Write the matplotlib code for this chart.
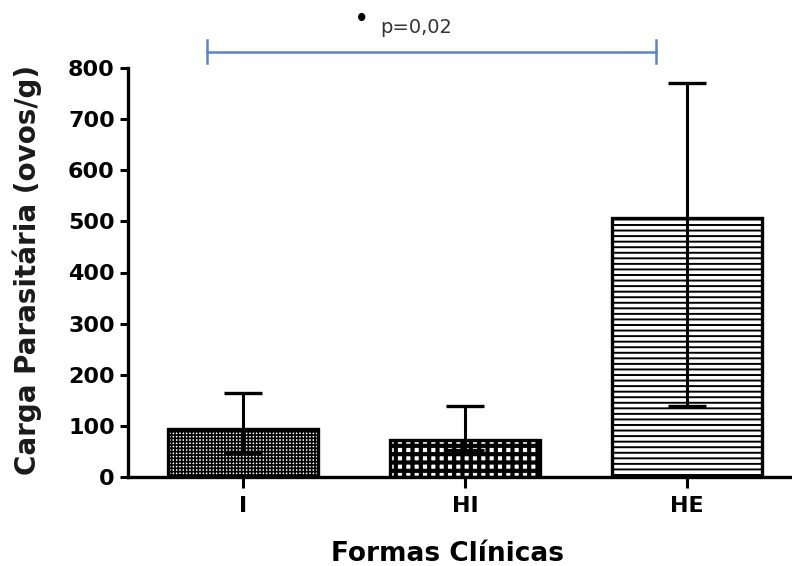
import matplotlib
matplotlib.use("Agg")
import matplotlib.pyplot as plt
import numpy as np

categories = ["I", "HI", "HE"]
means = [94, 72, 507]
upper_err = [70, 67, 264]
lower_err = [45, 19, 368]
hatches = ["+++++", "++", "---"]
yticks = [0, 100, 200, 300, 400, 500, 600, 700, 800]
sig_label = "p=0,02"

plt.rcParams['font.family'] = ['DejaVu Sans']

fig = plt.figure(figsize=(7.92, 5.66), dpi=100)
ax = fig.add_axes([128/792, 1-477/566, (790-128)/792, (477-68)/566])

x = np.arange(len(categories))
hatch_lws = [1.2, 3.0, 1.4]
for i in range(len(categories)):
    plt.rcParams['hatch.linewidth'] = hatch_lws[i]
    ax.bar(x[i], means[i], width=0.675, color='white', edgecolor='black',
           linewidth=2.4, hatch=hatches[i], zorder=2)
ax.errorbar(x, means, yerr=[lower_err, upper_err], fmt='none', ecolor='black',
            elinewidth=2.2, capsize=14, capthick=2.4, zorder=3)

ax.set_xlim(-0.518, 2.464)
ax.set_ylim(0, 800)
ax.set_yticks(yticks)
ax.set_xticks(x)
ax.set_xticklabels(categories)
for s in ['top', 'right']:
    ax.spines[s].set_visible(False)
for s in ['left', 'bottom']:
    ax.spines[s].set_linewidth(2.4)
ax.tick_params(axis='y', width=2.2, length=5.5, labelsize=16, pad=4)
ax.tick_params(axis='x', width=2.2, length=8, labelsize=16, pad=6)
for lab in ax.get_xticklabels() + ax.get_yticklabels():
    lab.set_fontweight('bold')
ax.set_xlabel("Formas Clínicas", fontsize=19, fontweight='bold', va='baseline')
ax.set_ylabel("Carga Parasitária (ovos/g)", fontsize=20, fontweight='bold', color='#1a1a1a')
ax.xaxis.set_label_coords(0.482, -0.205)
ax.yaxis.set_label_coords(-0.13, 0.506)

# significance bracket
blue = '#5b86c0'
y_sig = 832
x0, x1 = -0.16, 1.86
ax.plot([x0, x1], [y_sig, y_sig], color=blue, lw=1.8, clip_on=False)
for xx in (x0, x1):
    ax.plot([xx, xx], [y_sig - 22, y_sig + 22], color=blue, lw=1.8, clip_on=False)
ax.text(0.536, y_sig + 64, "•", fontsize=15, fontweight='bold', ha='center', va='center',
        color='black')
ax.text(0.617, y_sig + 48, sig_label, fontsize=14, ha='left', va='center', color='#333333')

fig.savefig("out.png", dpi=100)
